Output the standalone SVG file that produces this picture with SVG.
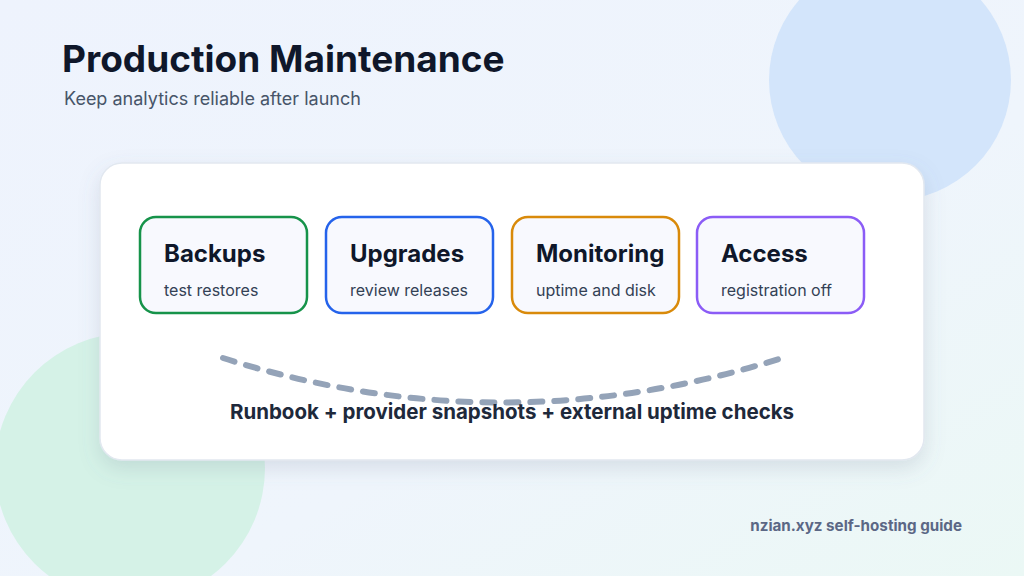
<svg xmlns="http://www.w3.org/2000/svg" width="1024" height="576" viewBox="0 0 1024 576">
<defs>
<linearGradient id="bg" x1="0" y1="0" x2="1" y2="1">
<stop offset="0" stop-color="#eef3fd"/>
<stop offset="0.6" stop-color="#eff5fc"/>
<stop offset="1" stop-color="#ebf8f5"/>
</linearGradient>
<filter id="sh" x="-10%" y="-10%" width="120%" height="130%">
<feDropShadow dx="0" dy="8" stdDeviation="10" flood-color="#64748b" flood-opacity="0.18"/>
</filter>
<style>
.t{font-family:Inter,"Liberation Sans",sans-serif}
.nt{font-family:Inter,"Liberation Sans",sans-serif;font-size:24px;font-weight:700;fill:#0f172a}
.ns{font-family:Inter,"Liberation Sans",sans-serif;font-size:16px;fill:#334155}
.box{fill:#f8f9fe;stroke-width:2.5}
</style>
</defs>
<rect width="1024" height="576" fill="url(#bg)"/>
<circle cx="890" cy="80" r="121" fill="#d3e5fb"/>
<circle cx="130" cy="468" r="135" fill="#d5f2e7"/>
<text class="t" x="62" y="72" font-size="37" font-weight="700" fill="#0f172a">Production Maintenance</text>
<text class="t" x="64" y="105" font-size="18" fill="#475569">Keep analytics reliable after launch</text>
<rect x="100" y="163" width="824" height="297" rx="22" fill="#ffffff" stroke="#e2e8f0" stroke-width="1.5" filter="url(#sh)"/>
<g id="backups">
<rect class="box" x="140" y="217" width="167" height="96" rx="16" stroke="#16934a"/>
<text class="nt" x="164" y="262">Backups</text>
<text class="ns" x="164" y="296">test restores</text>
</g>
<g id="upgrades">
<rect class="box" x="326" y="217" width="167" height="96" rx="16" stroke="#2563eb"/>
<text class="nt" x="350" y="262">Upgrades</text>
<text class="ns" x="350" y="296">review releases</text>
</g>
<g id="monitoring">
<rect class="box" x="512" y="217" width="167" height="96" rx="16" stroke="#d98a0a"/>
<text class="nt" x="536" y="262">Monitoring</text>
<text class="ns" x="536" y="296">uptime and disk</text>
</g>
<g id="access">
<rect class="box" x="697" y="217" width="167" height="96" rx="16" stroke="#8b5cf6"/>
<text class="nt" x="721" y="262">Access</text>
<text class="ns" x="721" y="296">registration off</text>
</g>
<g id="connectors">
<path d="M223 358 Q502 447 782 358" fill="none" stroke="#94a3b8" stroke-width="6" stroke-linecap="round" stroke-dasharray="12 12"/>
</g>
<text class="t" x="512" y="419" text-anchor="middle" font-size="20.5" font-weight="700" fill="#1e293b">Runbook + provider snapshots + external uptime checks</text>
<text class="t" x="962" y="531" text-anchor="end" font-size="15.2" font-weight="700" fill="#5b6785">nzian.xyz self-hosting guide</text>
</svg>
